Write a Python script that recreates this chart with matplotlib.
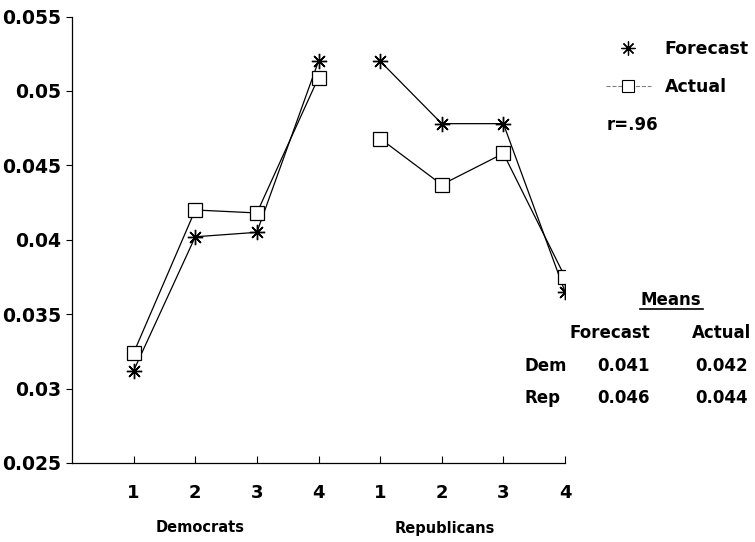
import numpy as np
import matplotlib
matplotlib.use("Agg")
import matplotlib.pyplot as plt
from matplotlib.lines import Line2D

plt.rcParams['font.family'] = ['DejaVu Sans']
plt.rcParams['font.weight'] = 'bold'

# data
quartiles = ["1", "2", "3", "4"]
dem_forecast = [0.0312, 0.0402, 0.0405, 0.0520]
dem_actual = [0.0324, 0.0420, 0.0418, 0.0509]
rep_forecast = [0.0520, 0.0478, 0.0478, 0.0365]
rep_actual = [0.0468, 0.0437, 0.0458, 0.0375]
means_rows = ["Dem", "Rep"]
means_forecast = ["0.041", "0.046"]
means_actual = ["0.042", "0.044"]
r_text = "r=.96"

W, H = 755, 542
fig = plt.figure(figsize=(W / 100, H / 100), dpi=100)
ax = fig.add_axes([72 / W, 1 - 463 / H, 493 / W, (463 - 16.5) / H])

star = (8, 2, 0)
dem_x = np.arange(1, 5)
rep_x = np.arange(5, 9)
for xs, fc, ac in [(dem_x, dem_forecast, dem_actual), (rep_x, rep_forecast, rep_actual)]:
    ax.plot(xs, fc, color='black', lw=0.9, marker=star, ms=11, mew=1.0)
    ax.plot(xs, ac, color='black', lw=0.9, marker='s', ms=9.5, mfc='white', mew=0.9)

ax.set_xlim(0, 8)
ax.set_ylim(0.025, 0.055)
ax.set_yticks([0.025, 0.03, 0.035, 0.04, 0.045, 0.05, 0.055])
ax.set_yticklabels(["0.025", "0.03", "0.035", "0.04", "0.045", "0.05", "0.055"])
ax.set_xticks(np.arange(1, 9))
ax.set_xticklabels(quartiles + quartiles)
ax.spines['top'].set_visible(False)
ax.spines['right'].set_visible(False)
ax.spines['left'].set_linewidth(0.9)
ax.spines['bottom'].set_linewidth(0.9)
ax.tick_params(axis='y', direction='out', length=4, width=0.8, pad=4, labelsize=13.5)
ax.tick_params(axis='x', direction='in', length=5, width=0.8, pad=15, labelsize=13)

fig.text(200 / W, 1 - 528 / H, "Democrats", ha='center', va='center', fontsize=10.5)
fig.text(445 / W, 1 - 528 / H, "Republicans", ha='center', va='center', fontsize=10.5)

# legend
handles = [Line2D([], [], ls='none', color='black', marker=star, ms=10, mew=0.9),
           Line2D([], [], ls='--', color='gray', lw=0.8, marker='s', ms=9, mfc='white',
                  mec='black', mew=0.8)]
fig.legend(handles, ["Forecast", "Actual"], loc='upper left', bbox_to_anchor=(590 / W, 1 - 24 / H),
           frameon=False, fontsize=12.5, labelspacing=1.2, handlelength=2.6, handletextpad=0.8)
fig.text(607 / W, 1 - 125 / H, r_text, ha='left', va='center', fontsize=12)

# means table
fig.text(671 / W, 1 - 300 / H, "Means", ha='center', va='center', fontsize=12)
fig.add_artist(Line2D([640 / W, 703 / W], [1 - 309 / H, 1 - 309 / H], color='black', lw=1.2))
fig.text(610 / W, 1 - 333 / H, "Forecast", ha='center', va='center', fontsize=12)
fig.text(722 / W, 1 - 333 / H, "Actual", ha='center', va='center', fontsize=12)
for i, row in enumerate(means_rows):
    y = 1 - (366 + 32 * i) / H
    fig.text(525 / W, y, row, ha='left', va='center', fontsize=12)
    fig.text(623 / W, y, means_forecast[i], ha='center', va='center', fontsize=12)
    fig.text(722 / W, y, means_actual[i], ha='center', va='center', fontsize=12)

fig.savefig("out.png", dpi=100)
